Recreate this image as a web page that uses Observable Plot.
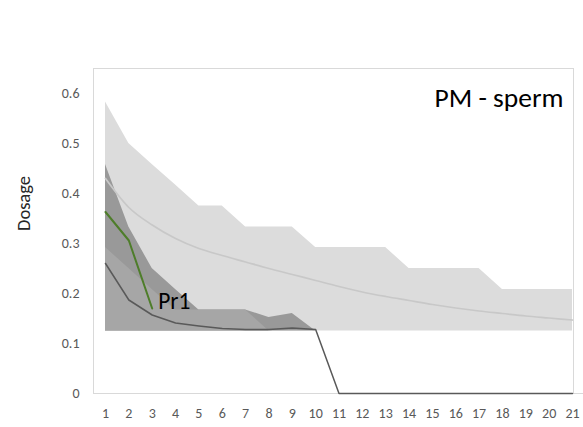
<!DOCTYPE html>
<html>
<head>
<meta charset="utf-8">
<script src="https://cdn.jsdelivr.net/npm/d3@7"></script>
<script src="https://cdn.jsdelivr.net/npm/@observablehq/plot@0.6"></script>
<style>
  html, body { margin: 0; padding: 0; background: #fff; }
  #chart { width: 583px; height: 427px; }
</style>
</head>
<body>
<div id="chart"></div>
<script>
// Categories (x axis)
const steps = [1, 2, 3, 4, 5, 6, 7, 8, 9, 10, 11, 12, 13, 14, 15, 16, 17, 18, 19, 20, 21];
const yTicks = [0, 0.1, 0.2, 0.3, 0.4, 0.5, 0.6];

// Lower edge shared by the shaded ranges
const bandFloor = 0.125;

// Light grey range (upper edge)
const lightUpper = [0.583, 0.5, 0.458, 0.417, 0.375, 0.375, 0.333, 0.333, 0.333, 0.292, 0.292,
                    0.292, 0.292, 0.25, 0.25, 0.25, 0.25, 0.208, 0.208, 0.208, 0.208];
// Darker range (upper edge), steps 1-10
const darkUpper = [0.458, 0.333, 0.25, 0.208, 0.167, 0.167, 0.167, 0.152, 0.16, 0.125];
// Mid range (upper edge), steps 1-10
const midUpper = [0.292, 0.25, 0.208, 0.167, 0.167, 0.167, 0.167, 0.125, 0.125, 0.125];

// Mean curve (light grey line)
const meanLine = [0.43, 0.372, 0.337, 0.31, 0.29, 0.276, 0.263, 0.25, 0.238, 0.226, 0.214,
                  0.203, 0.194, 0.186, 0.178, 0.171, 0.165, 0.16, 0.155, 0.151, 0.147];
// Dark grey line
const darkLine = [0.26, 0.187, 0.157, 0.141, 0.135, 0.13, 0.128, 0.128, 0.131, 0.128, 0,
                  0, 0, 0, 0, 0, 0, 0, 0, 0, 0];
// Pr1 (green line), steps 1-3
const pr1 = [0.363, 0.306, 0.17];

const title = "PM - sperm";
const pr1Label = "Pr1";

const rows = (vals) => vals.map((v, i) => ({x: steps[i], y: v}));
const bandRows = (vals) => vals.map((v, i) => ({x: steps[i], y1: bandFloor, y2: v}));

const FONT = "Calibri, Carlito, Lato, sans-serif";

const chart = Plot.plot({
  width: 583,
  height: 427,
  marginLeft: 105,
  marginRight: 11,
  marginTop: 68,
  marginBottom: 34,
  style: {fontFamily: FONT, background: "#fff", overflow: "visible"},
  x: {domain: [1, 21]},
  y: {domain: [0, 0.65]},
  marks: [
    Plot.frame({stroke: "#d9d9d9", insetLeft: -12, insetRight: -1}),
    Plot.areaY(bandRows(lightUpper), {x: "x", y1: "y1", y2: "y2", fill: "#dcdcdc"}),
    Plot.areaY(bandRows(darkUpper), {x: "x", y1: "y1", y2: "y2", fill: "#999999"}),
    Plot.areaY(bandRows(midUpper), {x: "x", y1: "y1", y2: "y2", fill: "#a6a6a6"}),
    Plot.ruleY([0], {stroke: "#d9d9d9", insetLeft: -12, insetRight: -11}),
    Plot.lineY(rows(meanLine), {x: "x", y: "y", stroke: "#c8c8c8", strokeWidth: 1.75, curve: "monotone-x"}),
    Plot.lineY(rows(darkLine), {x: "x", y: "y", stroke: "#595959", strokeWidth: 1.5}),
    Plot.lineY(rows(pr1), {x: "x", y: "y", stroke: "#4e7d2a", strokeWidth: 2}),
    Plot.text(rows(pr1).slice(-1), {x: "x", y: "y", text: () => pr1Label, textAnchor: "start",
      dx: 6, dy: -7, fontSize: 23.5, fill: "#000"}),
    Plot.text([title], {frameAnchor: "top-right", text: d => d, lineAnchor: "middle",
      dx: -9, dy: 30, fontSize: 27.5, fill: "#000"}),
    Plot.axisX(steps, {tickSize: 0, tickPadding: 15, fontSize: 14, fill: "#595959", label: null}),
    Plot.axisY(yTicks, {tickSize: 0, tickPadding: 26, fontSize: 14, fill: "#595959",
      tickFormat: d => String(+d.toFixed(1)), label: null}),
    Plot.text(["Dosage"], {frameAnchor: "left", text: d => d, rotate: -90, dx: -81, dy: 0,
      fontSize: 18.5, fill: "#262626"})
  ]
});
document.getElementById("chart").appendChild(chart);
</script>
</body>
</html>
